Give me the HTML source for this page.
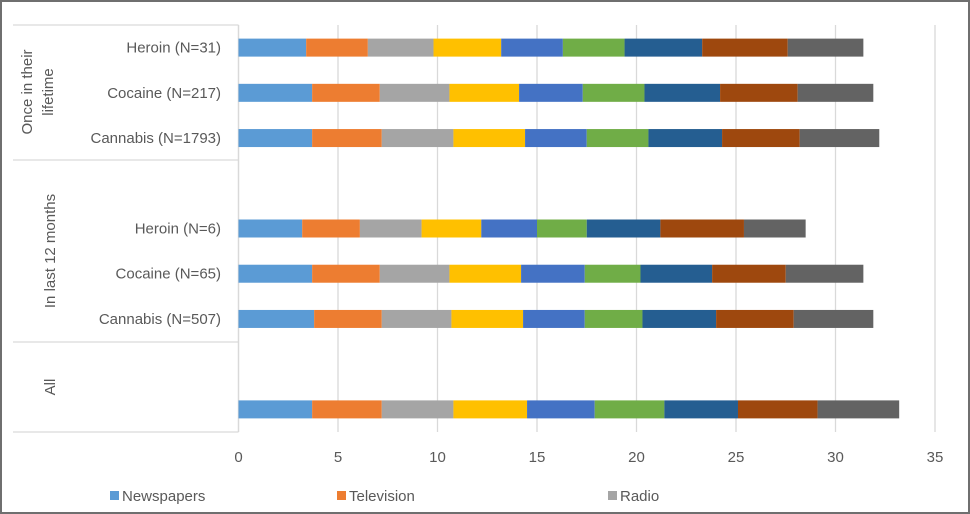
<!DOCTYPE html>
<html><head><meta charset="utf-8">
<style>
body{margin:0;background:#fff;}
#wrap{position:relative;width:970px;height:514px;overflow:hidden;}
svg text{font-family:"Liberation Sans",sans-serif;}
</style></head>
<body>
<div id="wrap">
<svg id="chart" width="970" height="514">
<rect x="1" y="1" width="968" height="512" fill="#fff" stroke="#6f6f6f" stroke-width="2"/>
</svg>
</div>
<script>
const categories = ["Heroin (N=31)","Cocaine (N=217)","Cannabis (N=1793)","","Heroin (N=6)","Cocaine (N=65)","Cannabis (N=507)","","All"];
const seriesNames = ["Newspapers","Television","Radio","S4","S5","S6","S7","S8","S9"];
const s1 = [3.4,3.7,3.7,null,3.2,3.7,3.8,null,3.7];
const s2 = [3.1,3.4,3.5,null,2.9,3.4,3.4,null,3.5];
const s3 = [3.3,3.5,3.6,null,3.1,3.5,3.5,null,3.6];
const s4 = [3.4,3.5,3.6,null,3.0,3.6,3.6,null,3.7];
const s5 = [3.1,3.2,3.1,null,2.8,3.2,3.1,null,3.4];
const s6 = [3.1,3.1,3.1,null,2.5,2.8,2.9,null,3.5];
const s7 = [3.9,3.8,3.7,null,3.7,3.6,3.7,null,3.7];
const s8 = [4.3,3.9,3.9,null,4.2,3.7,3.9,null,4.0];
const s9 = [3.8,3.8,4.0,null,3.1,3.9,4.0,null,4.1];
const xTicks = [0,5,10,15,20,25,30,35];
const legendLabels = ["Newspapers","Television","Radio"];
const series = [s1,s2,s3,s4,s5,s6,s7,s8,s9];
const colors = ["#5B9BD5","#ED7D31","#A5A5A5","#FFC000","#4472C4","#70AD47","#255E91","#9E480E","#636363"];

const NS="http://www.w3.org/2000/svg";
const svg=document.getElementById('chart');
const X0=238.5, PX=19.9, TOP=25, BOT=432;
const xs=v=>X0+v*PX;
const rowStep=(BOT-TOP)/categories.length;
const yc=i=>TOP+rowStep*(i+0.5);
function mk(t,a){const e=document.createElementNS(NS,t);for(const k in a)e.setAttribute(k,a[k]);svg.appendChild(e);return e;}

xTicks.forEach(t=>{
  const g=mk('line',{x1:xs(t),x2:xs(t),y1:TOP,y2:BOT,stroke:'#d9d9d9','stroke-width':1.3});
  
  
  const tx=mk('text',{x:xs(t),y:462,'text-anchor':'middle','font-size':15,fill:'#595959'});
  tx.textContent=t;
  
  
});
const ax=mk('line',{x1:X0,x2:X0,y1:TOP,y2:BOT,stroke:'#d9d9d9','stroke-width':1.3});


[TOP,160,342,BOT].forEach((y,i)=>{
  const l=mk('line',{x1:13,x2:X0,y1:y,y2:y,stroke:'#d9d9d9','stroke-width':1.3});
  
  
});

categories.forEach((c,i)=>{
  if(c && c!=="All"){
    const t=mk('text',{x:221,y:yc(i)+5,'text-anchor':'end','font-size':15,fill:'#595959'});
    t.textContent=c;
    
    
  }
  let acc=0;
  series.forEach((s,k)=>{
    const v=s[i]; if(v==null) return;
    const r=mk('rect',{x:xs(acc),y:yc(i)-9,width:v*PX,height:18,fill:colors[k]});
    
    
    acc+=v;
  });
});

function vtext(lines,cx,cy,name){
  const t=mk('text',{transform:`translate(${cx},${cy}) rotate(-90)`,'text-anchor':'middle','font-size':15,fill:'#595959'});
  
  
  lines.forEach((ln,j)=>{const ts=document.createElementNS(NS,'tspan');ts.setAttribute('x',0);ts.setAttribute('dy',j?21:0);ts.textContent=ln;t.appendChild(ts);});
}
vtext(["Once in their","lifetime"],32,92,'group-label-lifetime');
vtext(["In last 12 months"],55,251,'group-label-12-months');
vtext(["All"],55,387,'group-label-all');

const lx=[110,337,608];
legendLabels.forEach((l,k)=>{
  const r=mk('rect',{x:lx[k],y:491,width:9,height:9,fill:colors[k]});
  
  
  const t=mk('text',{x:lx[k]+12,y:501,'font-size':15,fill:'#595959'});
  t.textContent=l;
  
  
});
</script>
</body></html>
